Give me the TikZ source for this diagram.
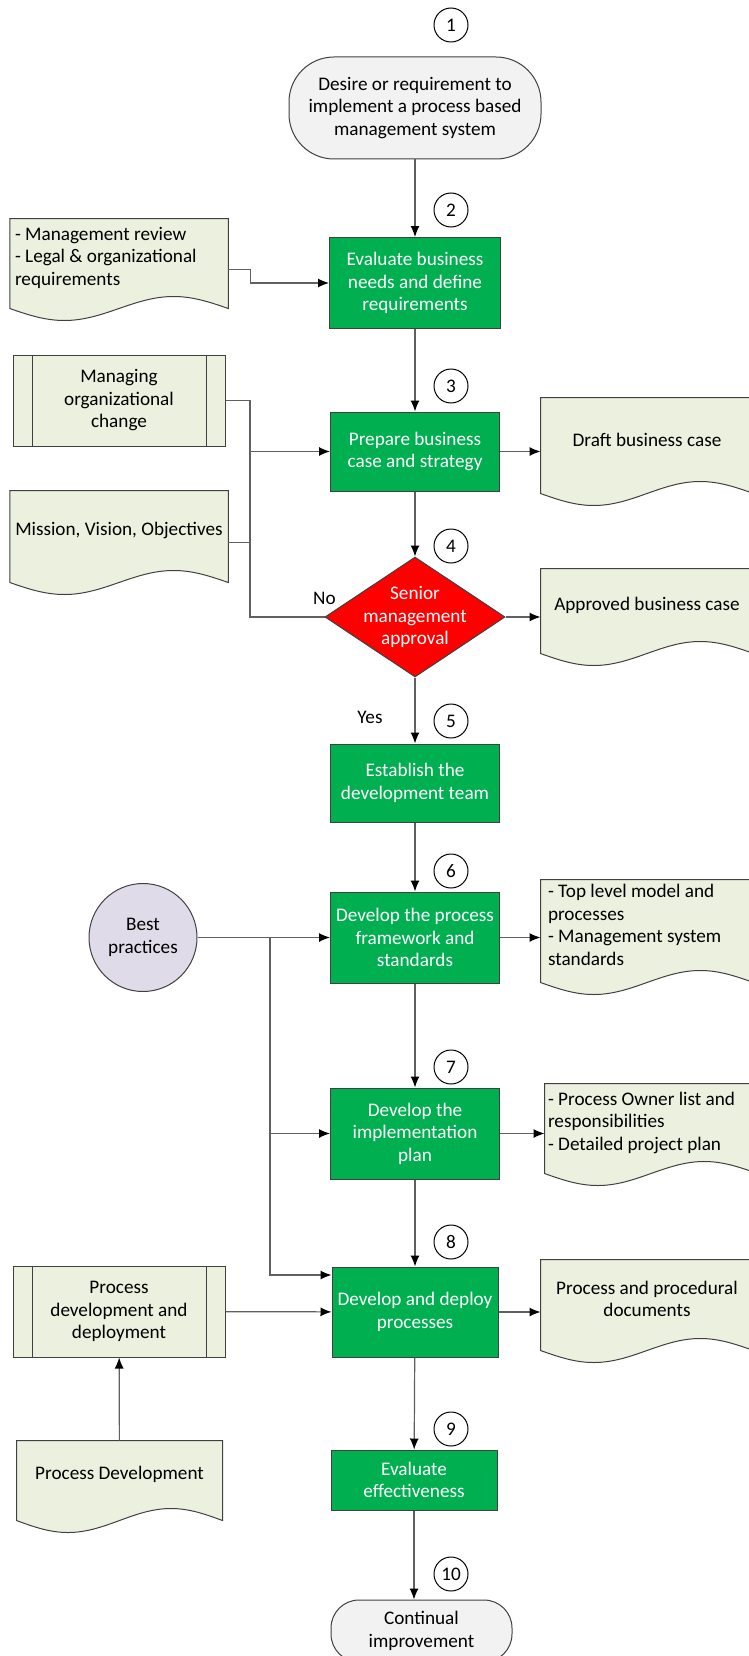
\documentclass[tikz,border=0pt]{standalone}
\usepackage{fontspec}
\setmainfont{Carlito}
\usetikzlibrary{shapes.geometric,arrows.meta,backgrounds,calc}
\definecolor{stepgreen}{HTML}{00B050}
\definecolor{docfill}{HTML}{EBF1DE}
\definecolor{termfill}{HTML}{F2F2F2}
\definecolor{bestfill}{HTML}{E0DBE9}
\definecolor{shapeline}{HTML}{404040}
\definecolor{connline}{HTML}{606060}

\begin{document}
\begin{tikzpicture}[x=1pt,y=-1pt,
	every node/.style={font=\fontsize{19.2}{22.5}\selectfont,inner sep=0pt,line width=1pt},
	task/.style={rectangle,draw=shapeline,fill=stepgreen,text=white,align=center,minimum width=169pt},
	term/.style={rectangle,rounded corners=45pt,draw=shapeline,fill=termfill,align=center},
	decision/.style={diamond,draw=shapeline,fill=red,minimum width=180pt,minimum height=120pt},
	docu/.style={rectangle,align=center,minimum width=212pt},
	predef/.style={rectangle,draw=shapeline,fill=docfill,align=center,minimum width=212pt,minimum height=91pt,
		path picture={\draw[shapeline,line width=1pt]
			([xshift=19pt]path picture bounding box.north west) -- ([xshift=19pt]path picture bounding box.south west)
			([xshift=-19pt]path picture bounding box.north east) -- ([xshift=-19pt]path picture bounding box.south east);}},
	stepnum/.style={circle,draw=black,minimum size=34pt},
	conn/.style={draw=connline,line width=1.2pt},
	arr/.style={conn,-{Latex[length=11pt,width=9pt,color=black]}},
	docline/.style={draw=shapeline,fill=docfill,line width=1pt}]
	\useasboundingbox (0,0) rectangle (749,1656);
	% main column
	\node[term,minimum width=252pt,minimum height=102pt] (start) at (415,108) {Desire or requirement to\\implement a process based\\management system};
	\node[task,minimum width=171pt,minimum height=91pt] (evalneeds) at (415,283) {Evaluate business\\needs and define\\requirements};
	\node[task,minimum height=79pt] (prepare) at (415,451.5) {Prepare business\\case and strategy};
	\node[decision,label={[text=white,align=center]center:Senior\\management\\approval}] (approval) at (415,617) {};
	\node[task,minimum height=78pt] (establish) at (415,783) {Establish the\\development team};
	\node[task,minimum height=91pt] (framework) at (415,937.5) {Develop the process\\framework and\\standards};
	\node[task,minimum height=91pt] (implement) at (415,1133.5) {Develop the\\implementation\\plan};
	\node[task,minimum width=166pt,minimum height=90pt] (deploy) at (415,1312) {Develop and deploy\\processes};
	\node[task,minimum width=166pt,minimum height=60pt] (evaleff) at (414,1480) {Evaluate\\effectiveness};
	\node[term,rounded corners=28pt,minimum width=181pt,minimum height=62pt] (finish) at (421.5,1631) {Continual\\improvement};
	% inputs
	\node[docu,minimum width=217.5pt,minimum height=77pt,text width=208pt,align=flush left] (mgmt) at (119,257.5) {- Management review\\- Legal \& organizational\\requirements};
	\node[predef] (managing) at (119,400.5) {Managing\\organizational\\change};
	\node[docu,minimum width=217.5pt,minimum height=79pt] (mission) at (119,530.5) {Mission, Vision, Objectives};
	\node[circle,draw=shapeline,fill=bestfill,minimum size=108pt,align=center] (best) at (143,937.5) {Best\\practices};
	\node[predef] (procdep) at (119,1311.5) {Process\\development and\\deployment};
	\node[docu,minimum width=205pt,minimum height=67pt] (procdev) at (119.5,1474.5) {Process Development};
	% outputs
	\node[docu,minimum height=83pt] (draft) at (647,439.5) {Draft business case};
	\node[docu,minimum height=72pt] (approved) at (647,605) {Approved business case};
	\node[docu,minimum height=90pt,text width=198pt,align=flush left] (toplevel) at (647,925) {- Top level model and\\processes\\- Management system\\standards};
	\node[docu,minimum height=77pt,text width=206pt,align=flush left] (owner) at (651,1122.5) {- Process Owner list and\\responsibilities\\- Detailed project plan};
	\node[docu,minimum height=78pt] (procdocs) at (647,1299) {Process and procedural\\documents};
	\foreach \N/\Y in {1/25,2/210,3/386,4/546,5/721,6/871,7/1067,8/1242,9/1429,10/1574}
		\node[stepnum] (n\N) at (451,\Y) {\N};
	\begin{scope}[on background layer]
		\foreach \D in {mgmt,mission,draft,approved,toplevel,owner,procdocs,procdev}
			\filldraw[docline] let \p1=(\D.south west), \p2=(\D.north east), \n1={(\x2-\x1)/4} in
				([yshift=-12pt]\D.south west) sin ++(\n1,12) cos ++(\n1,-12) sin ++(\n1,-12) cos ++(\n1,12)
				-- (\p2) -- (\x1,\y2) -- cycle;
	\end{scope}
	% connectors
	\coordinate (jA) at (250,617);
	\coordinate (jB) at (270,937.5);
	\draw[arr] (start) -- (evalneeds);
	\draw[arr] ([yshift=-12pt]mgmt.east) -- ++(22,0) |- (evalneeds.west);
	\draw[arr] (evalneeds) -- (prepare);
	\draw[conn] (managing.east) -| (jA) -- (approval.west) node[pos=1,above=12pt]{No};
	\draw[conn] ([yshift=-12pt]mission.east) -- ([yshift=-12pt]mission.east -| jA);
	\draw[arr] (jA |- prepare.west) -- (prepare.west);
	\draw[arr] (prepare.east) -- (prepare.east -| draft.west);
	\draw[arr] (prepare) -- (approval);
	\draw[arr] (approval.east) -- (approval.east -| approved.west);
	\draw[arr] (approval) -- (establish) node[pos=0.6,left=32pt]{Yes};
	\draw[arr] (establish) -- (framework);
	\draw[arr] (best) -- (framework);
	\draw[arr] (jB) |- ([yshift=37pt]deploy.west);
	\draw[arr] (jB |- implement.west) -- (implement.west);
	\draw[arr] (framework.east) -- (framework.east -| toplevel.west);
	\draw[arr] (framework) -- (implement);
	\draw[arr] (implement.east) -- (implement.east -| owner.west);
	\draw[arr] (implement) -- (deploy);
	\draw[arr] (procdep) -- (deploy);
	\draw[arr] (procdev) -- (procdep);
	\draw[arr] (deploy.east) -- (deploy.east -| procdocs.west);
	\draw[arr] (deploy) -- (evaleff);
	\draw[arr] (evaleff.south) -- (evaleff.south |- finish.north);
\end{tikzpicture}
\end{document}
